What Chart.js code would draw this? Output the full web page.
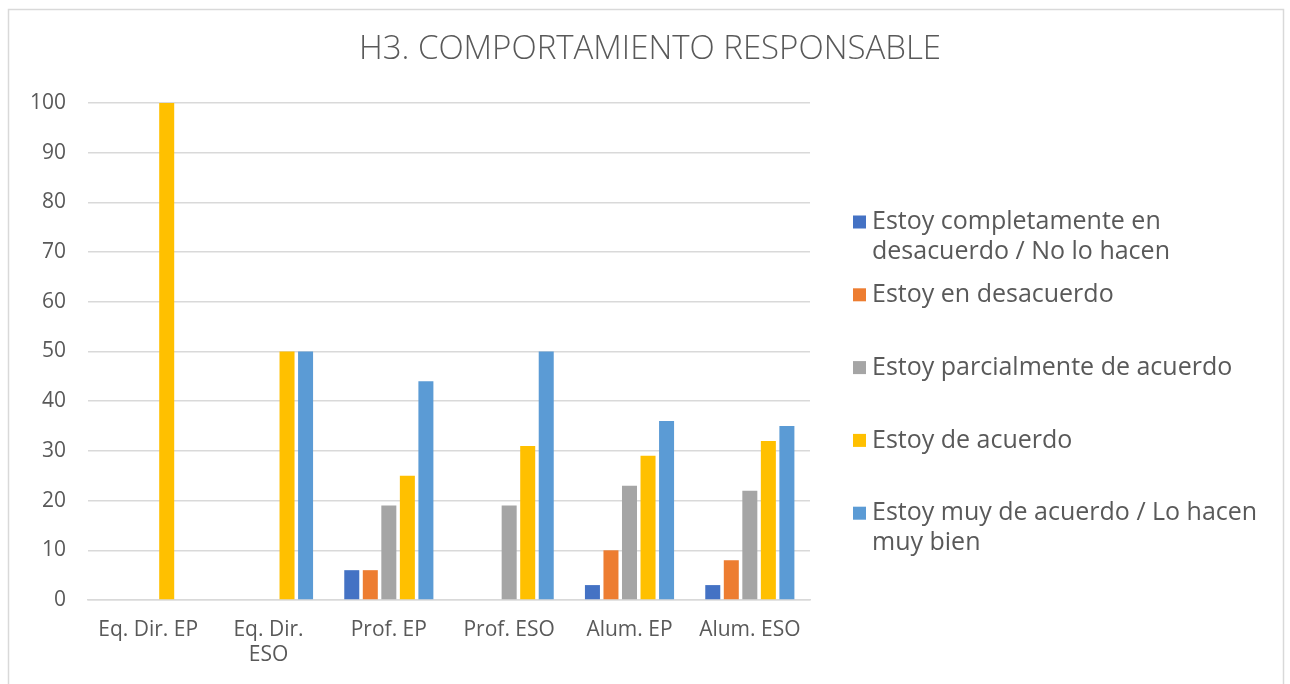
<!DOCTYPE html>
<html>
<head>
<meta charset="utf-8">
<script src="https://cdn.jsdelivr.net/npm/chart.js"></script>
<style>
  html, body { margin: 0; padding: 0; background: #fff; }
  #wrap { position: relative; width: 1290px; height: 684px; }
</style>
</head>
<body>
<div id="wrap"><canvas id="chart" width="1290" height="684"></canvas></div>
<script>
// categories (x axis), multi-line where the original wraps
const categories = ['Eq. Dir. EP', ['Eq. Dir.', 'ESO'], 'Prof. EP', 'Prof. ESO', 'Alum. EP', 'Alum. ESO'];

// series names (legend lines as they wrap in the original)
const seriesNames = [
  ['Estoy completamente en', 'desacuerdo / No lo hacen'],
  ['Estoy en desacuerdo'],
  ['Estoy parcialmente de acuerdo'],
  ['Estoy de acuerdo'],
  ['Estoy muy de acuerdo / Lo hacen', 'muy bien']
];
const seriesColors = ['#4472C4', '#ED7D31', '#A5A5A5', '#FFC000', '#5B9BD5'];

// values per series, one per category
const completDesacuerdo = [0, 0, 6, 0, 3, 3];
const desacuerdo        = [0, 0, 6, 0, 10, 8];
const parcialAcuerdo    = [0, 0, 19, 19, 23, 22];
const deAcuerdo         = [100, 50, 25, 31, 29, 32];
const muyDeAcuerdo      = [0, 50, 44, 50, 36, 35];

const yTicks = [0, 10, 20, 30, 40, 50, 60, 70, 80, 90, 100];

const chartTitle = 'H3. COMPORTAMIENTO RESPONSABLE';

const FONT = '"Open Sans", "DejaVu Sans", sans-serif';
const TEXT = '#595959';

const seriesValues = [completDesacuerdo, desacuerdo, parcialAcuerdo, deAcuerdo, muyDeAcuerdo];
const datasets = seriesValues.map((vals, i) => ({
  label: seriesNames[i].join(' '),
  lines: seriesNames[i],
  data: vals,
  backgroundColor: seriesColors[i],
  categoryPercentage: 0.77,
  barPercentage: 0.81
}));

// outer frame + title centred on the whole box
const framePlugin = {
  id: 'frame',
  beforeDraw(chart) {
    const ctx = chart.ctx;
    ctx.save();
    ctx.fillStyle = '#fff';
    ctx.fillRect(0, 0, chart.width, chart.height);
    ctx.strokeStyle = '#d9d9d9';
    ctx.lineWidth = 1.5;
    ctx.strokeRect(8.5, 9.5, 1275, 690);
    ctx.fillStyle = TEXT;
    ctx.font = '300 33px ' + FONT;
    ctx.textAlign = 'center';
    ctx.textBaseline = 'middle';
    ctx.fillText(chartTitle, 650, 50);
    ctx.restore();
  }
};

// legend on the right, with wrapped labels
const sideLegend = {
  id: 'sideLegend',
  afterDraw(chart) {
    const ctx = chart.ctx;
    const x0 = 853, box = 13, textX = 872;
    const startY = 222, step = 72.8, lineH = 30;
    ctx.save();
    ctx.font = '25px ' + FONT;
    ctx.textBaseline = 'middle';
    chart.data.datasets.forEach((ds, i) => {
      const y = startY + i * step;
      ctx.fillStyle = ds.backgroundColor;
      ctx.fillRect(x0, y - box / 2, box, box);
      ctx.fillStyle = TEXT;
      ds.lines.forEach((ln, j) => ctx.fillText(ln, textX, y + j * lineH));
    });
    ctx.restore();
  }
};

new Chart(document.getElementById('chart'), {
  type: 'bar',
  data: { labels: categories, datasets },
  options: {
    responsive: false,
    animation: false,
    layout: { padding: { left: 0, right: 480, top: 103, bottom: 0 } },
    plugins: {
      legend: { display: false },
      tooltip: { enabled: false },
      title: { display: false }
    },
    scales: {
      x: {
        grid: { display: false, drawTicks: false },
        border: { display: true, color: '#d9d9d9', width: 1.5 },
        ticks: { color: TEXT, font: { family: FONT, size: 21 }, padding: 17, maxRotation: 0, autoSkip: false },
        afterFit(scale) { scale.height = 84; }
      },
      y: {
        min: 0,
        max: 100,
        afterBuildTicks(scale) { scale.ticks = yTicks.map(v => ({ value: v })); },
        grid: { color: '#d9d9d9', lineWidth: 1.5, drawTicks: false },
        border: { display: false },
        ticks: { color: TEXT, font: { family: FONT, size: 21 }, padding: 22 },
        afterFit(scale) { scale.width = 88; }
      }
    }
  },
  plugins: [framePlugin, sideLegend]
});
</script>
</body>
</html>
